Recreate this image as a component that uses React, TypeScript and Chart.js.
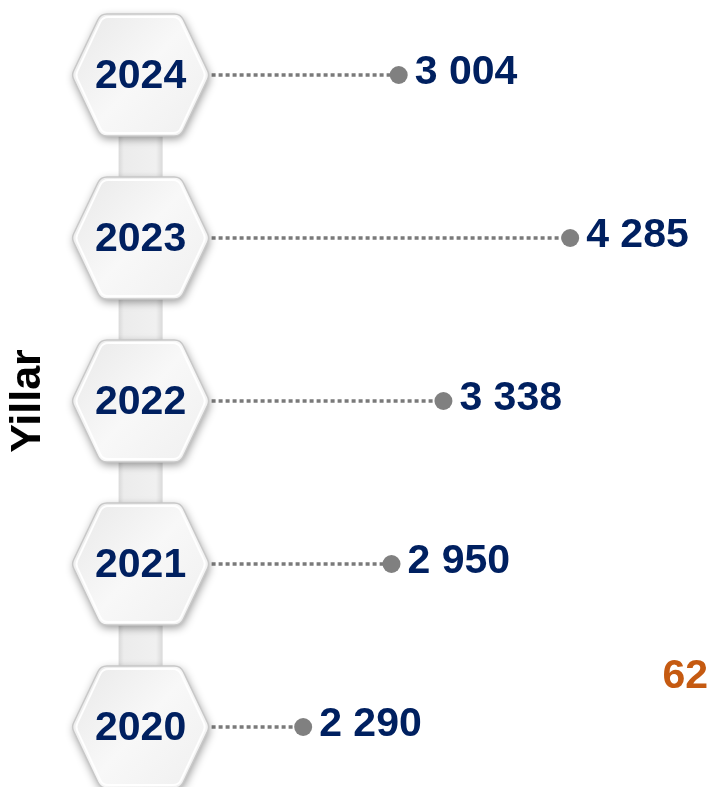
import { useEffect, useRef } from 'react';
import { Chart, registerables } from 'chart.js';

Chart.register(...registerables);

const YEARS = ['2024', '2023', '2022', '2021', '2020'];
const VALUES = [3004, 4285, 3338, 2950, 2290];
const VALUE_LABELS = ['3 004', '4 285', '3 338', '2 950', '2 290'];
const AXIS_TITLE = 'Yillar';
const EXTRA_LABEL = '62';

const NAVY = '#002060';
const ORANGE = '#C55A11';
const GRAY = '#808080';
const FONT = "'Liberation Sans', Arial, sans-serif";

function hexPath(ctx: CanvasRenderingContext2D, cx: number, cy: number, W: number, T: number, H: number, r: number) {
  const pts = [
    [cx - T, cy - H],
    [cx + T, cy - H],
    [cx + W, cy],
    [cx + T, cy + H],
    [cx - T, cy + H],
    [cx - W, cy],
  ];
  ctx.beginPath();
  ctx.moveTo(cx, cy - H);
  for (let i = 1; i <= 6; i++) {
    const p = pts[i % 6];
    const n = pts[(i + 1) % 6];
    ctx.arcTo(p[0], p[1], n[0], n[1], r);
  }
  ctx.closePath();
}

const hexPlugin = {
  id: 'hexTimeline',
  beforeDatasetsDraw(chart: any) {
    const { ctx, scales, chartArea } = chart;
    const xs = scales.x;
    const ys = scales.y;
    const cx = chartArea.left + 77;
    const centers = YEARS.map((_, i) => ys.getPixelForValue(i));
    ctx.save();
    // connectors
    const g = ctx.createLinearGradient(cx - 22, 0, cx + 22, 0);
    g.addColorStop(0, '#d9d9d9');
    g.addColorStop(0.12, '#ececec');
    g.addColorStop(0.85, '#f0f0f0');
    g.addColorStop(1, '#d9d9d9');
    ctx.fillStyle = g;
    for (let i = 0; i < centers.length - 1; i++) {
      ctx.fillRect(cx - 22, centers[i], 44, centers[i + 1] - centers[i]);
    }
    // dotted leader lines
    ctx.setLineDash([4, 3]);
    ctx.lineWidth = 3.5;
    ctx.strokeStyle = '#7a7a7a';
    centers.forEach((cy, i) => {
      ctx.beginPath();
      ctx.moveTo(cx + 64, cy);
      ctx.lineTo(xs.getPixelForValue(VALUES[i]), cy);
      ctx.stroke();
    });
    ctx.setLineDash([]);
    // hexagons
    centers.forEach((cy) => {
      ctx.save();
      ctx.shadowColor = 'rgba(0,0,0,0.4)';
      ctx.shadowBlur = 9;
      ctx.shadowOffsetX = 1;
      ctx.shadowOffsetY = 3;
      const hg = ctx.createLinearGradient(cx - 69, cy - 61, cx + 69, cy + 61);
      hg.addColorStop(0, '#e8e8e8');
      hg.addColorStop(0.5, '#f8f8f8');
      hg.addColorStop(1, '#efefef');
      ctx.fillStyle = hg;
      hexPath(ctx, cx, cy, 69, 40, 61, 10);
      ctx.fill();
      ctx.restore();
      ctx.lineWidth = 1.5;
      ctx.strokeStyle = '#c8c8c8';
      hexPath(ctx, cx, cy, 69, 40, 61, 10);
      ctx.stroke();
      ctx.lineWidth = 2;
      ctx.strokeStyle = 'rgba(255,255,255,0.95)';
      hexPath(ctx, cx, cy, 65, 38, 58, 9);
      ctx.stroke();
    });
    // year text
    ctx.fillStyle = NAVY;
    ctx.font = `bold 41px ${FONT}`;
    ctx.textAlign = 'center';
    ctx.textBaseline = 'middle';
    centers.forEach((cy, i) => {
      ctx.fillText(YEARS[i], cx, cy + 2);
    });
    ctx.restore();
  },
  afterDatasetsDraw(chart: any) {
    const { ctx, scales } = chart;
    const xs = scales.x;
    const ys = scales.y;
    ctx.save();
    ctx.font = `bold 41px ${FONT}`;
    ctx.textBaseline = 'middle';
    ctx.textAlign = 'left';
    ctx.fillStyle = NAVY;
    VALUES.forEach((v, i) => {
      ctx.fillText(VALUE_LABELS[i], xs.getPixelForValue(v) + 16, ys.getPixelForValue(i) - 2);
    });
    ctx.fillStyle = ORANGE;
    ctx.textAlign = 'right';
    ctx.fillText(EXTRA_LABEL, chart.width - 3, ys.getPixelForValue(YEARS.length - 1) - 50);
    ctx.restore();
  },
};

export default function App() {
  const ref = useRef<HTMLCanvasElement | null>(null);
  useEffect(() => {
    document.body.style.margin = '0';
    const canvas = ref.current;
    if (!canvas) return;
    const chart = new Chart(canvas, {
      type: 'scatter',
      data: {
        labels: YEARS,
        datasets: [
          {
            data: YEARS.map((y, i) => ({ x: VALUES[i], y })),
            backgroundColor: GRAY,
            borderColor: GRAY,
            borderWidth: 0,
            pointRadius: 9,
            pointHoverRadius: 9,
            showLine: false,
          },
        ],
      },
      options: {
        responsive: false,
        animation: false,
        layout: { padding: { top: 75, bottom: 60, left: 0, right: 0 } },
        plugins: { legend: { display: false }, tooltip: { enabled: false } },
        scales: {
          x: { type: 'linear', display: false, min: 500, max: 5270 },
          y: {
            type: 'category',
            labels: YEARS,
            offset: false,
            grid: { display: false },
            border: { display: false },
            ticks: { display: false },
            title: {
              display: true,
              text: AXIS_TITLE,
              color: '#000000',
              font: { family: FONT, size: 43, weight: 'bold' },
              padding: { top: 2, bottom: 2 },
            },
          },
        },
      },
      plugins: [hexPlugin],
    } as any);
    return () => chart.destroy();
  }, []);
  return <canvas ref={ref} width={711} height={787} style={{ display: 'block' }} />;
}
